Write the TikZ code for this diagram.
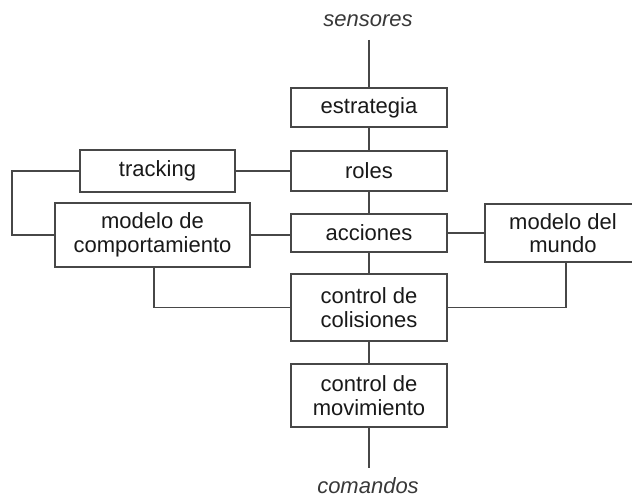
\documentclass[tikz,border=0pt]{standalone}
\usepackage{fontspec}
\setmainfont{Liberation Sans}
\begin{document}
\begin{tikzpicture}[x=1pt,y=-1pt,
  wire/.style={draw=black!72,line width=1.4pt},
  blk/.style={draw=black!72,line width=1.4pt,fill=white,align=center,
    inner sep=0pt,text=black!90,font=\fontsize{22}{23.5}\selectfont},
  io/.style={font=\fontsize{22}{23.5}\selectfont\itshape,text=black!78,inner sep=0pt}]
\useasboundingbox (0,0) rectangle (632,497);
\clip (0,0) rectangle (632,497);

% central chain
\node[blk,minimum width=156pt,minimum height=39pt] (est) at (369,107.5) {estrategia};
\node[blk,minimum width=156pt,minimum height=40pt] (rol) at (369,171) {roles};
\node[blk,minimum width=156pt,minimum height=38pt] (acc) at (369,233) {acciones};
\node[blk,minimum width=156pt,minimum height=67pt] (col) at (369,307.5) {control de\\colisiones};
\node[blk,minimum width=156pt,minimum height=63pt] (mov) at (369,395.5) {control de\\movimiento};

% side blocks
\node[blk,minimum width=155pt,minimum height=42pt] (trk) at (157.5,171) {tracking};
\node[blk,minimum width=195pt,minimum height=64pt] (mcp) at (152.5,235) {modelo de\\comportamiento};
\node[blk,minimum width=156pt,minimum height=58pt] (mun) at (563,233) {modelo del\\mundo};

% inputs and outputs
\node[io] (sen) at (368,21) {sensores};
\node[io] (com) at (368,485.5) {comandos};
\coordinate (senend) at (369,40);
\coordinate (comend) at (369,468);
\coordinate (loop) at (12,171);

% connectors
\draw[wire] (senend) -- (est.north);
\draw[wire] (est) -- (rol);
\draw[wire] (rol) -- (acc);
\draw[wire] (acc) -- (col);
\draw[wire] (col) -- (mov);
\draw[wire] (mov.south) -- (comend);
\draw[wire] (trk.east) -- (rol.west);
\draw[wire] (trk.west) -- (loop) |- (mcp.west);
\draw[wire] (mcp.east) -- (mcp.east -| acc.west);
\draw[wire] ([xshift=1.5pt]mcp.south) |- (col.west);
\draw[wire] (acc.east) -- (acc.east -| mun.west);
\draw[wire] ([xshift=3pt]mun.south) |- (col.east);
\end{tikzpicture}
\end{document}
